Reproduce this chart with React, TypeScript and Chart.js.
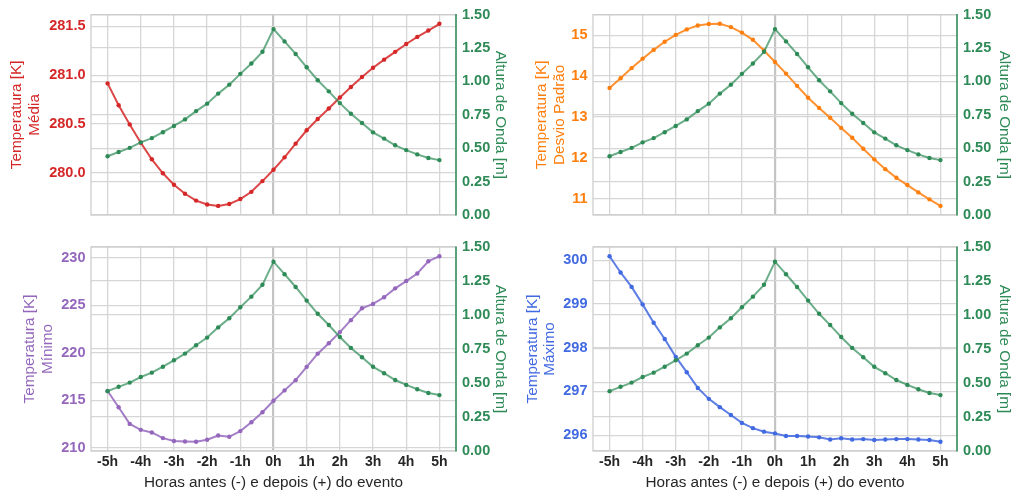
import React, { useEffect, useRef } from "react";
import { Chart, registerables } from "chart.js";

Chart.register(...registerables);
Chart.defaults.font.family = "'Liberation Sans', Arial, sans-serif";

// ---------- data ----------
const HOURS = [
  -5, -4.667, -4.333, -4, -3.667, -3.333, -3, -2.667, -2.333, -2, -1.667, -1.333, -1, -0.667, -0.333,
  0, 0.333, 0.667, 1, 1.333, 1.667, 2, 2.333, 2.667, 3, 3.333, 3.667, 4, 4.333, 4.667, 5,
];
const X_TICKS = [-5, -4, -3, -2, -1, 0, 1, 2, 3, 4, 5];
const X_LABELS = ["-5h", "-4h", "-3h", "-2h", "-1h", "0h", "1h", "2h", "3h", "4h", "5h"];
const X_TITLE = "Horas antes (-) e depois (+) do evento";

const WAVE_HEIGHT = [
  0.44, 0.472, 0.503, 0.544, 0.576, 0.62, 0.667, 0.716, 0.778, 0.834, 0.909, 0.976, 1.057, 1.135, 1.222,
  1.392, 1.3, 1.206, 1.106, 1.009, 0.926, 0.838, 0.758, 0.689, 0.619, 0.572, 0.522, 0.486, 0.454, 0.427, 0.411,
];
const WAVE_TICKS = [0, 0.25, 0.5, 0.75, 1, 1.25, 1.5];
const WAVE_LABELS = ["0.00", "0.25", "0.50", "0.75", "1.00", "1.25", "1.50"];
const WAVE_TITLE = "Altura de Onda [m]";

const TEMP_MEAN = [
  280.917, 280.693, 280.497, 280.31, 280.14, 279.997, 279.88, 279.787, 279.717, 279.677, 279.663, 279.683,
  279.733, 279.807, 279.917, 280.033, 280.16, 280.3, 280.437, 280.553, 280.66, 280.773, 280.88, 280.983,
  281.077, 281.16, 281.24, 281.32, 281.393, 281.458, 281.527,
];
const MEAN_TICKS = [280, 280.5, 281, 281.5];
const MEAN_LABELS = ["280.0", "280.5", "281.0", "281.5"];

const TEMP_STD = [
  13.709, 13.948, 14.195, 14.426, 14.641, 14.841, 15.008, 15.143, 15.239, 15.275, 15.28, 15.199, 15.064,
  14.888, 14.625, 14.346, 14.06, 13.76, 13.47, 13.22, 12.98, 12.73, 12.49, 12.22, 11.96, 11.72, 11.51,
  11.33, 11.15, 10.98, 10.82,
];
const STD_TICKS = [11, 12, 13, 14, 15];
const STD_LABELS = ["11", "12", "13", "14", "15"];

const TEMP_MIN = [
  215.97, 214.26, 212.51, 211.88, 211.61, 211.01, 210.7, 210.66, 210.63, 210.84, 211.29, 211.15, 211.75,
  212.69, 213.73, 214.95, 216.04, 217.12, 218.52, 219.91, 221.0, 222.18, 223.44, 224.69, 225.15, 225.85,
  226.79, 227.56, 228.36, 229.65, 230.17,
];
const MIN_TICKS = [210, 215, 220, 225, 230];
const MIN_LABELS = ["210", "215", "220", "225", "230"];

const TEMP_MAX = [
  300.09, 299.72, 299.39, 298.99, 298.57, 298.2, 297.79, 297.44, 297.08, 296.83, 296.64, 296.46, 296.28,
  296.16, 296.08, 296.04, 295.98, 295.98, 295.97, 295.95, 295.9, 295.93, 295.9, 295.91, 295.89, 295.9,
  295.91, 295.91, 295.9, 295.89, 295.85,
];
const MAX_TICKS = [296, 297, 298, 299, 300];
const MAX_LABELS = ["296", "297", "298", "299", "300"];

const TEMP_TITLE = "Temperatura [K]";

// ---------- styling / layout ----------
const GREEN = "#2e8b57";
const GRID = "#d6d6d6";
const TEXT = "#262626";
const TITLE_FONT = { size: 15.3, lineHeight: 1.13 };
const TICK_FONT = { size: 14.5, weight: "bold" };

type PanelCfg = {
  values: number[];
  ticks: number[];
  labels: string[];
  subtitle: string;
  color: string;
  lineColor: string;
  pad: { left: number; right: number; top: number; bottom: number };
  yW: number;
  y2W: number;
  xH: number;
  showX: boolean;
};

const PANELS: PanelCfg[] = [
  {
    values: TEMP_MEAN, ticks: MEAN_TICKS, labels: MEAN_LABELS, subtitle: "Média",
    color: "#d62728", lineColor: "rgba(214,39,40,0.85)",
    pad: { left: 8.35, right: 506.35, top: 10.5, bottom: 278 }, yW: 82.65, y2W: 52.65, xH: 0, showX: false,
  },
  {
    values: TEMP_STD, ticks: STD_TICKS, labels: STD_LABELS, subtitle: "Desvio Padrão",
    color: "#ff7f0e", lineColor: "rgba(255,127,14,0.85)",
    pad: { left: 533.35, right: 1.85, top: 10.5, bottom: 278 }, yW: 59.65, y2W: 56.15, xH: 0, showX: false,
  },
  {
    values: TEMP_MIN, ticks: MIN_TICKS, labels: MIN_LABELS, subtitle: "Mínimo",
    color: "#9467bd", lineColor: "rgba(148,103,189,0.85)",
    pad: { left: 21.35, right: 506.35, top: 247, bottom: 0 }, yW: 69.65, y2W: 52.65, xH: 42, showX: true,
  },
  {
    values: TEMP_MAX, ticks: MAX_TICKS, labels: MAX_LABELS, subtitle: "Máximo",
    color: "#4169e1", lineColor: "rgba(65,105,225,0.85)",
    pad: { left: 523.85, right: 1.85, top: 247, bottom: 0 }, yW: 69.15, y2W: 56.15, xH: 42, showX: true,
  },
];

const framePlugin = {
  id: "frame",
  beforeDatasetsDraw(chart: any) {
    const { ctx, chartArea: a } = chart;
    ctx.save();
    ctx.strokeStyle = "#cccccc";
    ctx.lineWidth = 1.25;
    ctx.strokeRect(a.left, a.top, a.right - a.left, a.bottom - a.top);
    ctx.strokeStyle = GREEN;
    ctx.lineWidth = 1.5;
    ctx.beginPath();
    ctx.moveTo(a.right, a.top - 0.6);
    ctx.lineTo(a.right, a.bottom + 0.6);
    ctx.stroke();
    ctx.restore();
  },
};

function Panel({ cfg }: { cfg: PanelCfg }) {
  const ref = useRef<HTMLCanvasElement>(null);
  useEffect(() => {
    const lo = Math.min(...cfg.values);
    const hi = Math.max(...cfg.values);
    const m = (hi - lo) * 0.05;
    const chart = new Chart(ref.current as HTMLCanvasElement, {
      type: "line",
      data: {
        datasets: [
          {
            label: WAVE_TITLE,
            data: HOURS.map((h, i) => ({ x: h, y: WAVE_HEIGHT[i] })),
            yAxisID: "y2",
            borderColor: "rgba(46,139,87,0.7)",
            backgroundColor: GREEN,
            pointBackgroundColor: GREEN,
            pointBorderWidth: 0,
            pointRadius: 2.2,
            borderWidth: 2,
            tension: 0,
          },
          {
            label: cfg.subtitle,
            data: HOURS.map((h, i) => ({ x: h, y: cfg.values[i] })),
            yAxisID: "y",
            borderColor: cfg.lineColor,
            backgroundColor: cfg.color,
            pointBackgroundColor: cfg.color,
            pointBorderWidth: 0,
            pointRadius: 2.2,
            borderWidth: 2,
            tension: 0,
          },
        ],
      },
      options: {
        animation: false,
        responsive: false,
        maintainAspectRatio: false,
        events: [],
        layout: { padding: cfg.pad, autoPadding: false } as any,
        plugins: { legend: { display: false }, tooltip: { enabled: false } },
        scales: {
          x: {
            type: "linear",
            position: "bottom",
            min: -5.5,
            max: 5.5,
            afterBuildTicks: (s: any) => {
              s.ticks = X_TICKS.map((v) => ({ value: v }));
            },
            afterFit: (s: any) => {
              s.height = cfg.xH;
            },
            border: { display: false },
            grid: {
              drawTicks: false,
              color: (c: any) => (c.tick && c.tick.value === 0 ? "#c4c4c4" : GRID),
              lineWidth: (c: any) => (c.tick && c.tick.value === 0 ? 2.2 : 1.3),
            },
            ticks: {
              display: cfg.showX,
              autoSkip: false,
              maxRotation: 0,
              padding: 3.1,
              color: TEXT,
              font: { size: 14, weight: "bold" },
              callback: (_v: any, i: number) => X_LABELS[i],
            },
            title: {
              display: cfg.showX,
              text: X_TITLE,
              color: TEXT,
              font: TITLE_FONT,
              padding: { top: 0, bottom: 1.35 },
            },
          },
          y: {
            type: "linear",
            position: "left",
            min: lo - m,
            max: hi + m,
            afterBuildTicks: (s: any) => {
              s.ticks = cfg.ticks.map((v) => ({ value: v }));
            },
            afterFit: (s: any) => {
              s.width = cfg.yW;
            },
            border: { display: false },
            grid: { drawTicks: false, color: GRID, lineWidth: 1.3 },
            ticks: {
              padding: 5.5,
              color: cfg.color,
              font: TICK_FONT,
              callback: (_v: any, i: number) => cfg.labels[i],
            },
            title: {
              display: true,
              text: [TEMP_TITLE, cfg.subtitle],
              color: cfg.color,
              font: TITLE_FONT,
              padding: 0,
            },
          },
          y2: {
            type: "linear",
            position: "right",
            min: 0,
            max: 1.5,
            afterBuildTicks: (s: any) => {
              s.ticks = WAVE_TICKS.map((v) => ({ value: v }));
            },
            afterFit: (s: any) => {
              s.width = cfg.y2W;
            },
            border: { display: false },
            grid: { drawTicks: false, color: GRID, lineWidth: 1.3 },
            ticks: {
              padding: 6,
              color: GREEN,
              font: TICK_FONT,
              callback: (_v: any, i: number) => WAVE_LABELS[i],
            },
            title: {
              display: true,
              text: WAVE_TITLE,
              color: GREEN,
              font: TITLE_FONT,
              padding: 0,
            },
          },
        },
      } as any,
      plugins: [framePlugin],
    });
    return () => chart.destroy();
  }, [cfg]);
  return (
    <canvas
      ref={ref}
      width={1015}
      height={493}
      style={{ position: "absolute", left: 0, top: 0, width: 1015, height: 493 }}
    />
  );
}

export default function App() {
  return (
    <div style={{ position: "fixed", left: 0, top: 0, width: 1015, height: 493, background: "#ffffff" }}>
      {PANELS.map((p, i) => (
        <Panel key={i} cfg={p} />
      ))}
    </div>
  );
}
